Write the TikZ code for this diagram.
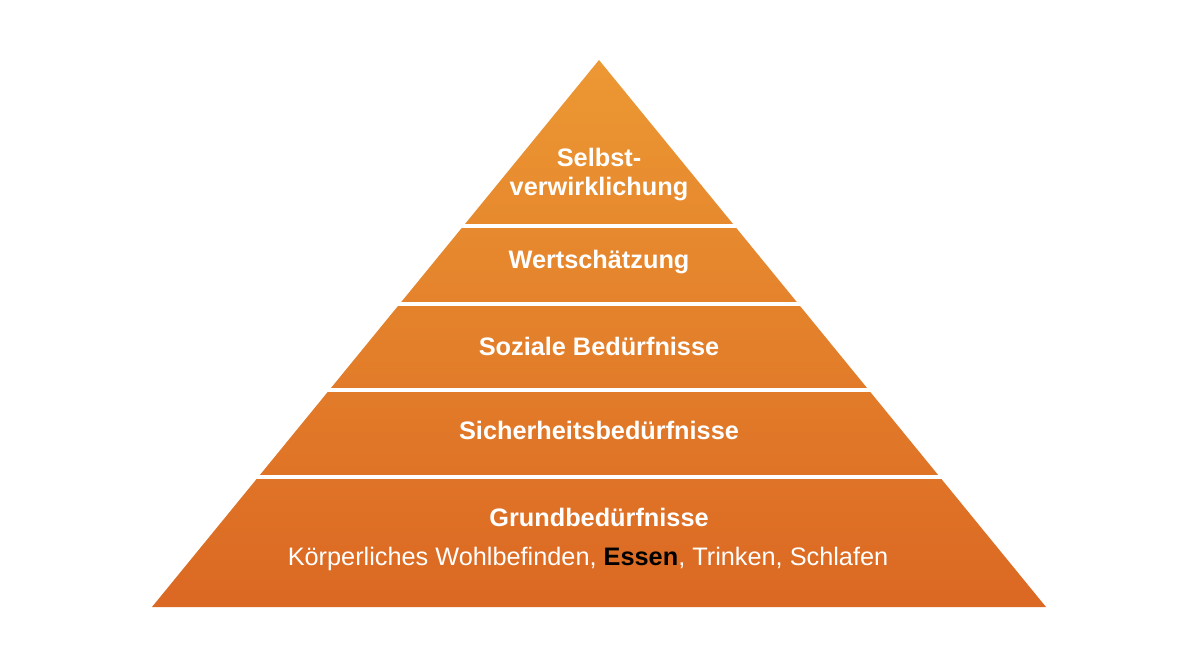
\documentclass[tikz,border=0pt]{standalone}
\usepackage{fontspec}
\setmainfont{Liberation Sans}
\definecolor{pyrtop}{HTML}{EC9833}
\definecolor{pyrbot}{HTML}{DB6823}
\begin{document}
\begin{tikzpicture}[x=0.02cm,y=-0.02cm,
    level/.style={text=white,font=\fontsize{14.4}{17}\selectfont\bfseries,inner sep=0pt,anchor=base,align=center},
    sub/.style={text=white,font=\fontsize{14.4}{17}\selectfont,inner sep=0pt,anchor=base},
    gap/.style={white,line width=0.08cm}]
  \useasboundingbox (0,0) rectangle (1200,662);
  \coordinate (apex) at (599,60);
  \coordinate (bl) at (152,607);
  \coordinate (br) at (1046,607);
  \shade[top color=pyrtop,bottom color=pyrbot] (apex) -- (br) -- (bl) -- cycle;
  \foreach \y in {226,304,390,476.5}
    \draw[gap] (120,\y) -- (1080,\y);
  \node[level] (selbst) at (599,196) {Selbst-\\verwirklichung};
  \node[level] (wert) at (599,269) {Wertschätzung};
  \node[level] (sozial) at (599,355) {Soziale Bedürfnisse};
  \node[level] (sicher) at (599,439) {Sicherheitsbedürfnisse};
  \node[level] (grund) at (599,526) {Grundbedürfnisse};
  \node[sub] (koerper) at (588,565) {Körperliches Wohlbefinden, {\bfseries\color{black}Essen}, Trinken, Schlafen};
\end{tikzpicture}
\end{document}
